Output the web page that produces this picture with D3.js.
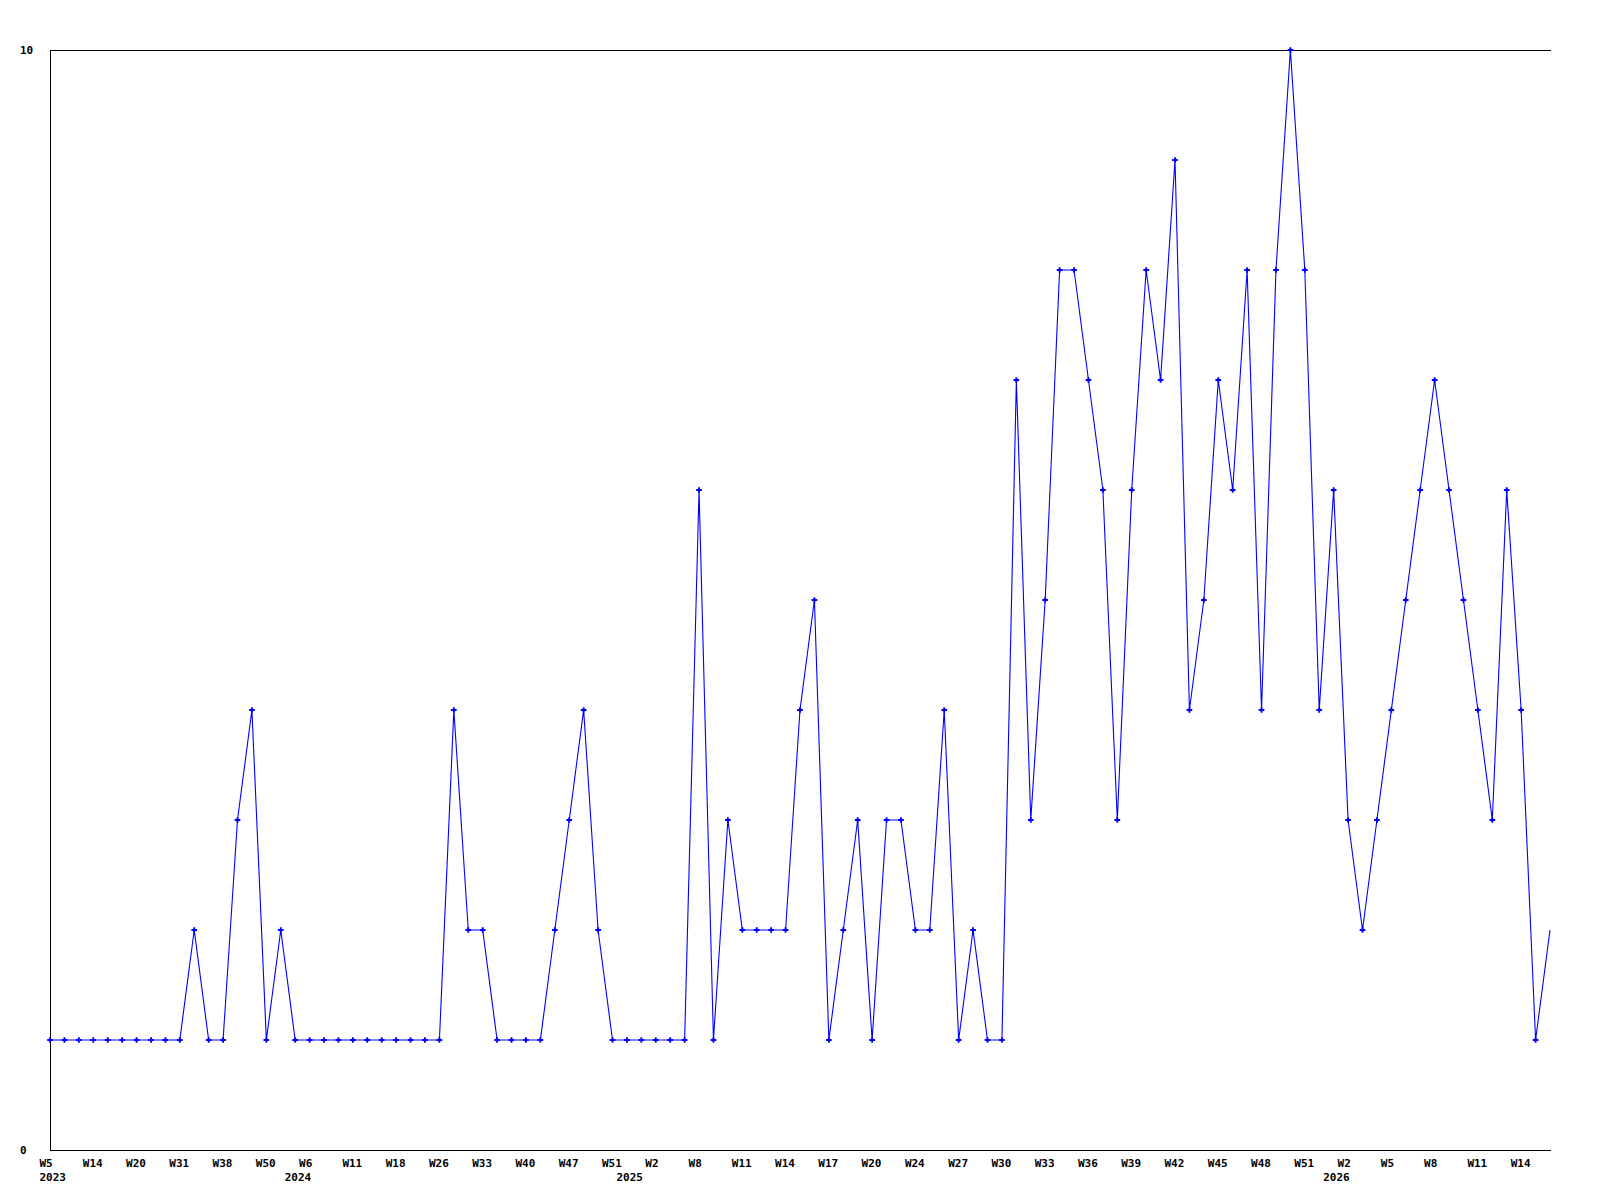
<html lang="en">
<head>
<meta charset="UTF-8">
<title>Weekly count</title>
<script src="https://d3js.org/d3.v7.min.js"></script>
<style>
  body { margin: 0; background: #fff; }
  text { font-family: "DejaVu Sans Mono", monospace; font-weight: bold; font-size: 11px; fill: #000; }
</style>
</head>
<body>
<div id="chart"></div>
<script>
// one value per data point, left to right
const values = [
  1, 1, 1, 1, 1, 1, 1, 1, 1, 1, 2, 1, 1, 3, 4, 1, 2,
  1, 1, 1, 1, 1, 1, 1, 1, 1, 1, 1, 4, 2, 2, 1, 1, 1, 1,
  2, 3, 4, 2, 1, 1, 1, 1, 1, 1, 6, 1, 3, 2, 2, 2, 2,
  4, 5, 1, 2, 3, 1, 3, 3, 2, 2, 4, 1, 2, 1, 1,
  7, 3, 5, 8, 8, 7, 6, 3, 6, 8, 7, 9, 4, 5, 7, 6, 8, 4, 8, 10, 8, 4, 6,
  3, 2, 3, 4, 5, 6, 7, 6, 5, 4, 3, 6, 4, 1, 2
];

// a week label under every third point
const weekLabels = [
  "W5", "W14", "W20", "W31", "W38", "W50", "W6", "W11", "W18", "W26", "W33", "W40",
  "W47", "W51", "W2", "W8", "W11", "W14", "W17", "W20", "W24", "W27", "W30", "W33",
  "W36", "W39", "W42", "W45", "W48", "W51", "W2", "W5", "W8", "W11", "W14"
];

// year labels and the point where each year starts
const yearLabels = ["2023", "2024", "2025", "2026"];
const yearStart = [0, 17, 40, 89];

const yTickValues = [0, 10];

const svg = d3.select("#chart")
  .append("svg")
  .attr("width", 1600)
  .attr("height", 1200);

const x = d3.scaleLinear()
  .domain([0, values.length - 1])
  .range([50, 1550]);

const y = d3.scaleLinear()
  .domain([0, 10])
  .range([1150, 50]);

// frame: left, bottom and top lines
svg.append("path")
  .attr("d", `M${x(0)},${y(10)}H${x(values.length - 1) + 1}M${x(0)},${y(10)}V${y(0)}H${x(values.length - 1) + 1}`)
  .attr("fill", "none")
  .attr("stroke", "#000")
  .attr("stroke-width", 1)
  .attr("shape-rendering", "crispEdges");

// y labels
svg.append("g")
  .selectAll("text")
  .data(yTickValues)
  .join("text")
  .attr("x", 20)
  .attr("y", d => y(d) + 3.5)
  .text(d => d);

// week labels
svg.append("g")
  .selectAll("text")
  .data(weekLabels)
  .join("text")
  .attr("x", (d, i) => x(i * 3) - 10.5)
  .attr("y", 1166.5)
  .text(d => d);

// year labels
svg.append("g")
  .selectAll("text")
  .data(yearLabels)
  .join("text")
  .attr("x", (d, i) => x(yearStart[i]) - 10.5)
  .attr("y", 1180.5)
  .text(d => d);

const line = d3.line()
  .x((d, i) => x(i))
  .y(d => y(d));

svg.append("path")
  .datum(values)
  .attr("d", line)
  .attr("fill", "none")
  .attr("stroke", "#0000ff")
  .attr("stroke-width", 1.1);

// markers (the last point has none)
svg.append("g")
  .selectAll("path")
  .data(values.slice(0, -1))
  .join("path")
  .attr("transform", (d, i) => `translate(${x(i)},${y(d)})`)
  .attr("d", d3.symbol(d3.symbolCross).size(18))
  .attr("fill", "#0000ff");
</script>
</body>
</html>
